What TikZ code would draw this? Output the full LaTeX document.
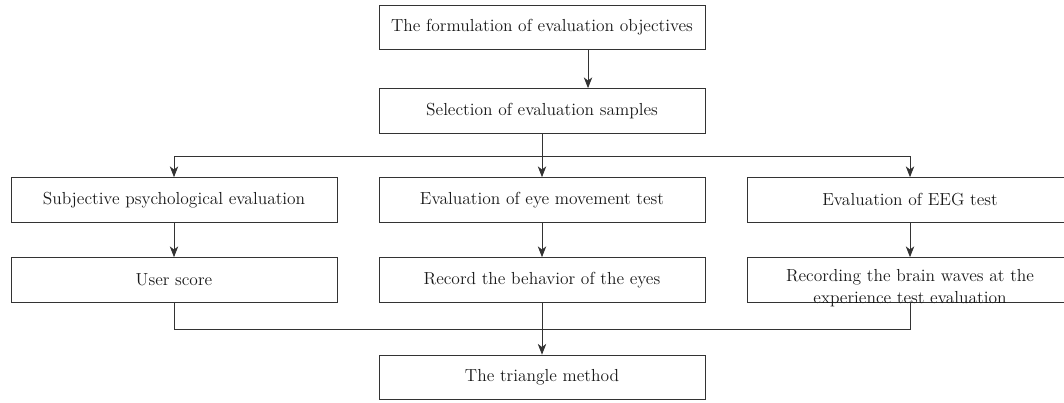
\documentclass[tikz,border=0pt]{standalone}
\usetikzlibrary{arrows.meta}

\begin{document}
\begin{tikzpicture}[x=0.025cm, y=-0.025cm,
    stage/.style={draw=black!80, line width=0.6pt, inner sep=0pt,
        minimum width=8.15cm, minimum height=1.12cm,
        text=black!90, font=\fontsize{12.4}{14}\selectfont},
    link/.style={draw=black!80, line width=0.6pt},
    arr/.style={link, -{Stealth[length=2.7mm, width=2.1mm, inset=0.8mm]}}]
    \useasboundingbox (0,0) rectangle (1064,402);

    \node[stage] (formulation) at (542,27.5) {The formulation of evaluation objectives};
    \node[stage] (samples) at (542,111) {Selection of evaluation samples};

    \node[stage] (subj) at (174,200) {Subjective psychological evaluation};
    \node[stage] (eye) at (542,200) {Evaluation of eye movement test};
    \node[stage] (eeg) at (910,200) {Evaluation of EEG test};

    \node[stage] (score) at (174,280) {User score};
    \node[stage] (behavior) at (542,280) {Record the behavior of the eyes};
    \node[stage] (brain) at (910,280) {};
    \node[align=center, text=black!90, inner sep=0pt,
        font=\fontsize{12.4}{15.6}\selectfont] (braintext) at (910,288)
        {Recording the brain waves at the\\experience test evaluation};

    \node[stage] (triangle) at (542,377.5) {The triangle method};

    \coordinate (split) at (542,156);
    \coordinate (merge) at (542,329);

    \draw[arr] ([xshift=1.15cm]formulation.south) -- ([xshift=1.15cm]samples.north);
    \draw[link] (samples) -- (split);
    \draw[arr] (split) -| (subj);
    \draw[arr] (split) -- (eye);
    \draw[arr] (split) -| (eeg);

    \draw[arr] (subj) -- (score);
    \draw[arr] (eye) -- (behavior);
    \draw[arr] (eeg) -- (brain);

    \draw[link] (score) |- (merge);
    \draw[link] (brain) |- (merge);
    \draw[arr] (behavior) -- (triangle);
\end{tikzpicture}
\end{document}
